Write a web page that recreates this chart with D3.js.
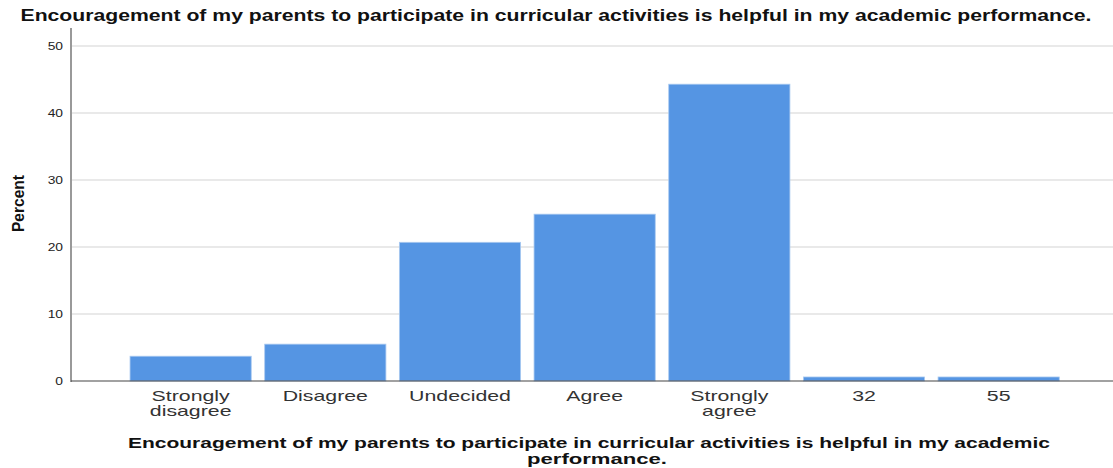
<!DOCTYPE html>
<html><head><meta charset="utf-8">
<script src="https://cdn.jsdelivr.net/npm/d3@7"></script>
<style>body{margin:0;background:#fff}svg{display:block}</style>
</head><body>
<svg id="c" width="1113" height="468"></svg>
<script>
const categories = [["Strongly","disagree"],["Disagree"],["Undecided"],["Agree"],["Strongly","agree"],["32"],["55"]];
const values = [3.7, 5.5, 20.7, 24.9, 44.3, 0.6, 0.6];
const yTicks = [0, 10, 20, 30, 40, 50];
const titleText = "Encouragement of my parents to participate in curricular activities is helpful in my academic performance.";
const xTitleLines = ["Encouragement of my parents to participate in curricular activities is helpful in my academic", "performance."];
const yTitle = "Percent";

(function(){
const svg = d3.select("#c");
const pLeft = 71, pRight = 1113, pTop = 28, pBottom = 381;
const SANS = "Liberation Sans, Arial, sans-serif";
function stretch(sel, f){
  sel.each(function(){
    const n = this; const L = n.getComputedTextLength();
    d3.select(n).attr("textLength", L*f).attr("lengthAdjust","spacingAndGlyphs");
  });
}
const keys = categories.map((d,i)=>i);
const x = d3.scaleBand().domain(keys).range([123.3, 1066]).paddingInner(0.1).paddingOuter(0.05);
const y = d3.scaleLinear().domain([0, 50]).range([pBottom, 46]);

svg.append("g").selectAll("line").data(yTicks.filter(t=>t>0)).join("line")
  .attr("x1", pLeft).attr("x2", pRight).attr("y1", d=>y(d)).attr("y2", d=>y(d))
  .attr("stroke", "#d3d3d3").attr("stroke-width", 1.2);

svg.append("g").selectAll("rect").data(values).join("rect")
  .attr("x", (d,i)=>x(i)).attr("width", x.bandwidth())
  .attr("y", d=>y(d)).attr("height", d=>pBottom - y(d))
  .attr("fill", "#5595e3").attr("stroke", "#a9c9f0").attr("stroke-width", 0.8);

const yAxis = d3.axisLeft(y).tickValues(yTicks).tickSize(0).tickPadding(8);
const gy = svg.append("g").attr("transform", `translate(${pLeft},0)`).call(yAxis);
gy.select(".domain").remove();
gy.selectAll("text").attr("font-family",SANS).attr("font-size", 11.5).attr("fill","#222");
stretch(gy.selectAll("text"), 1.2);
svg.append("line").attr("x1", pLeft).attr("x2", pLeft).attr("y1", pTop).attr("y2", pBottom+1)
  .attr("stroke", "#999").attr("stroke-width", 2);

svg.append("line").attr("x1", pLeft).attr("x2", pRight).attr("y1", pBottom).attr("y2", pBottom)
  .attr("stroke", "#444").attr("stroke-width", 1.2);

const xAxis = d3.axisBottom(x).tickSize(0).tickFormat(()=> "");
const gx = svg.append("g").attr("transform", `translate(0,${pBottom})`).call(xAxis);
gx.select(".domain").remove();
gx.selectAll(".tick").each(function(d){
  const t = d3.select(this).append("text").attr("text-anchor","middle")
    .attr("font-family",SANS).attr("font-size", 15).attr("fill","#333");
  categories[d].forEach((ln, j) => {
    const s = t.append("tspan").attr("x", 0).attr("y", 20 + j*15).text(ln);
    stretch(s, 1.42);
  });
});

svg.append("text").attr("x", 556).attr("y", 21).attr("text-anchor","middle")
  .attr("font-family",SANS).attr("font-weight","bold")
  .attr("font-size", 16).attr("fill","#111").text(titleText)
  .attr("textLength", 1071).attr("lengthAdjust","spacingAndGlyphs");

const xw = [922, 140], xc = [589, 597];
const xt = svg.append("text").attr("text-anchor","middle")
  .attr("font-family",SANS).attr("font-weight","bold")
  .attr("font-size", 15).attr("fill","#111");
xTitleLines.forEach((ln,j)=>{
  xt.append("tspan").attr("x", xc[j]).attr("y", 448 + j*16).text(ln)
    .attr("textLength", xw[j]).attr("lengthAdjust","spacingAndGlyphs");
});

svg.append("text").attr("transform", "translate(24,203.5) rotate(-90)").attr("text-anchor","middle")
  .attr("font-family","Liberation Sans Narrow, Arial Narrow, sans-serif").attr("font-weight","bold")
  .attr("font-size", 17).attr("fill","#111").text(yTitle)
  .attr("textLength", 57).attr("lengthAdjust","spacingAndGlyphs");
})();
</script>
</body></html>
